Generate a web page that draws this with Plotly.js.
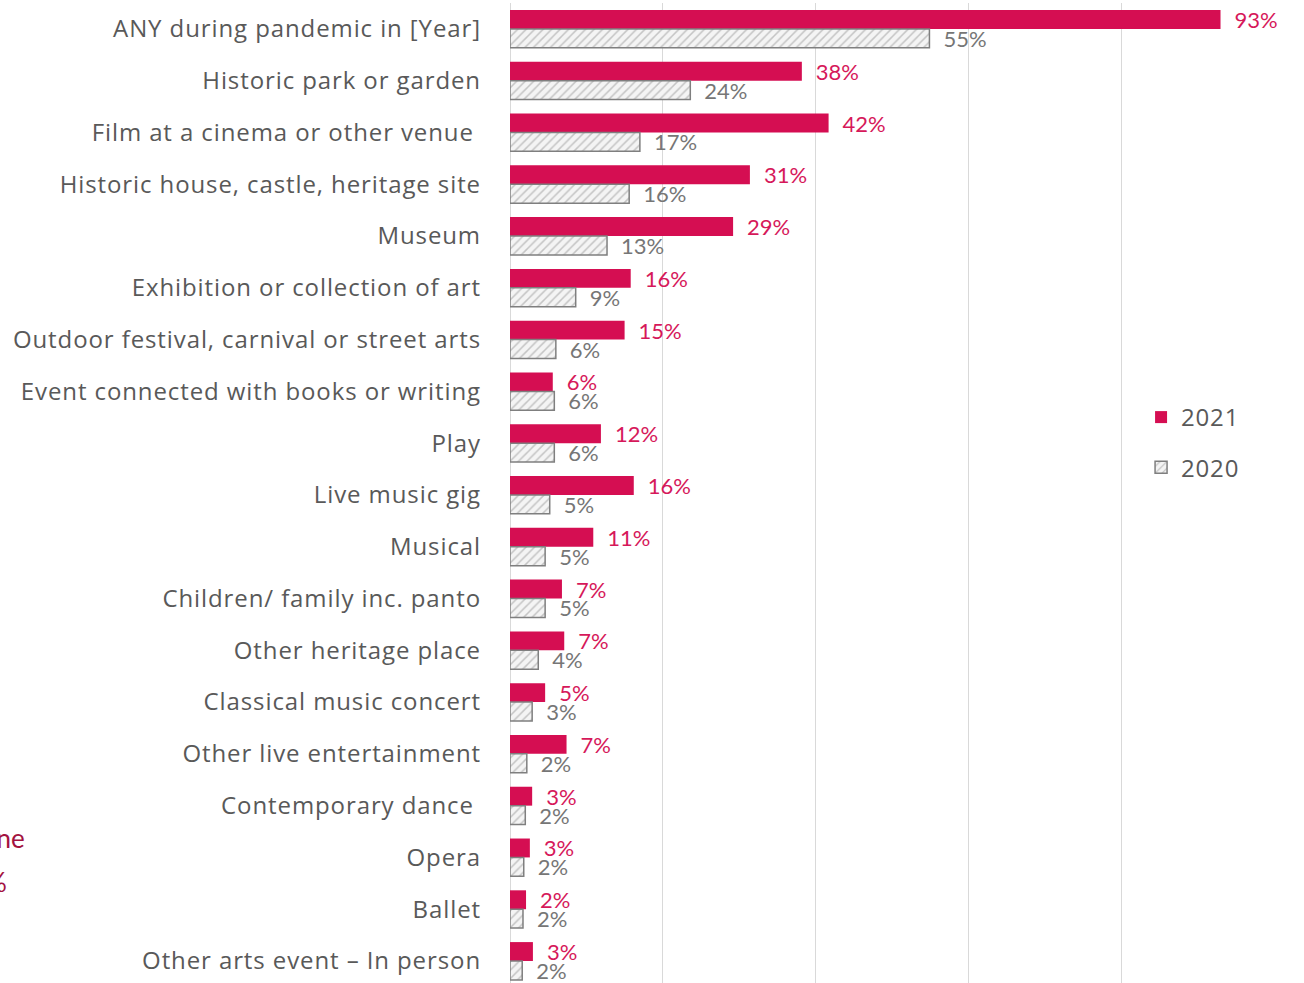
<!DOCTYPE html>
<html>
<head>
<meta charset="utf-8">
<script src="https://cdn.plot.ly/plotly-3.0.1.min.js"></script>
<style>
html,body{margin:0;padding:0;background:#fff;}
#chart{width:1304px;height:983px;}
#chart .ytick text{letter-spacing:0.9px;}
#chart .legendtext{letter-spacing:0.8px;}
</style>
</head>
<body>
<div id="chart"></div>
<script>
const categories = [
  "ANY during pandemic in [Year]",
  "Historic park or garden",
  "Film at a cinema or other venue\u00a0",
  "Historic house, castle, heritage site",
  "Museum",
  "Exhibition or collection of art",
  "Outdoor festival, carnival or street arts",
  "Event connected with books or writing",
  "Play",
  "Live music gig",
  "Musical",
  "Children/ family inc. panto",
  "Other heritage place",
  "Classical music concert",
  "Other live entertainment",
  "Contemporary dance\u00a0",
  "Opera",
  "Ballet",
  "Other arts event \u2013 In person"
];
const values2021 = [0.93, 0.382, 0.417, 0.314, 0.292, 0.158, 0.150, 0.056, 0.119, 0.162, 0.109, 0.068, 0.071, 0.046, 0.074, 0.029, 0.026, 0.021, 0.030];
const values2020 = [0.549, 0.236, 0.170, 0.156, 0.127, 0.086, 0.060, 0.058, 0.058, 0.052, 0.046, 0.046, 0.037, 0.029, 0.022, 0.020, 0.018, 0.017, 0.016];
const seriesNames = ["2021", "2020"];

const trace2021 = {
  type: 'bar', orientation: 'h', name: seriesNames[0],
  y: categories, x: values2021,
  marker: {color: '#D50E52'},
  text: values2021, texttemplate: '\u2002%{x:.0%}', textposition: 'outside',
  textfont: {family: 'Lato, sans-serif', size: 22, color: '#D6185A'},
  cliponaxis: false, constraintext: 'none', legendgroup: 'a', hoverinfo: 'skip'
};
const trace2020 = {
  type: 'bar', orientation: 'h', name: seriesNames[1],
  y: categories, x: values2020,
  marker: {color: '#ffffff', line: {color: '#7f7f7f', width: 1.5},
           pattern: {shape: '/', fgcolor: '#c4c4c4', bgcolor: '#f4f4f4', size: 6, solidity: 0.25}},
  text: values2020, texttemplate: '\u2002%{x:.0%}', textposition: 'outside',
  textfont: {family: 'Lato, sans-serif', size: 22, color: '#767676'},
  cliponaxis: false, constraintext: 'none', legendgroup: 'b', hoverinfo: 'skip'
};

const layout = {
  width: 1304, height: 983,
  margin: {l: 510, r: 29.5, t: 3, b: 0, pad: 0},
  paper_bgcolor: '#ffffff', plot_bgcolor: '#ffffff',
  barmode: 'group', bargap: 0.27, bargroupgap: 0,
  font: {family: 'Lato, sans-serif', color: '#595959'},
  xaxis: {range: [0, 1], dtick: 0.2, showgrid: true, gridcolor: '#d9d9d9', gridwidth: 1,
          zeroline: true, zerolinecolor: '#d9d9d9', zerolinewidth: 1,
          showticklabels: false, ticks: '', showline: false},
  yaxis: {type: 'category', categoryorder: 'array', categoryarray: categories,
          range: [18.425, -0.5], showgrid: false, zeroline: false, showline: false,
          ticks: '', ticklabelstandoff: 28,
          tickfont: {family: '"Open Sans", sans-serif', size: 24, color: '#595959'}},
  showlegend: true,
  legend: {x: 0.826, y: 0.6, xanchor: 'left', yanchor: 'top', traceorder: 'grouped',
           tracegroupgap: 16, font: {family: '"Open Sans", sans-serif', size: 24, color: '#595959'},
           bgcolor: 'rgba(0,0,0,0)', itemwidth: 30},
  annotations: [
    {xref: 'paper', yref: 'paper', x: (27 - 510) / 764.5, y: 1 - (838 - 3) / 980, xanchor: 'right', yanchor: 'middle',
     text: 'Online', showarrow: false, font: {family: 'Lato, sans-serif', size: 26, color: '#A3123F'}},
    {xref: 'paper', yref: 'paper', x: (9 - 510) / 764.5, y: 1 - (882 - 3) / 980, xanchor: 'right', yanchor: 'middle',
     text: '9%', showarrow: false, font: {family: 'Lato, sans-serif', size: 26, color: '#A3123F'}}
  ]
};

Plotly.newPlot('chart', [trace2021, trace2020], layout, {displayModeBar: false, staticPlot: true});
</script>
</body>
</html>
